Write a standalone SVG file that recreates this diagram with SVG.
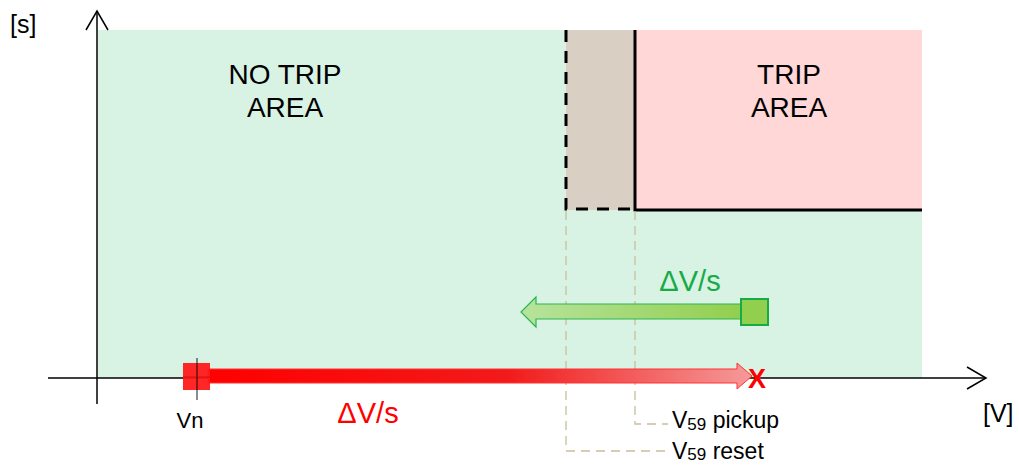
<svg xmlns="http://www.w3.org/2000/svg" width="1019" height="465" viewBox="0 0 1019 465">
<style>
text{font-family:"Liberation Sans",Arial,sans-serif;}
.lbl{font-size:28px;fill:#000;}
.unit{font-size:25px;fill:#000;}
.vlab{font-size:23px;fill:#000;}
.sub{font-size:17px;}
.guide{stroke:#c8bf9c;stroke-width:1.3;stroke-dasharray:9,6;fill:none;}
.axis{stroke:#000;stroke-width:1.5;fill:none;}
</style>
<defs>
<linearGradient id="gGreen" x1="0" y1="0" x2="1" y2="0">
<stop offset="0" stop-color="#b7e39d"/>
<stop offset="1" stop-color="#92cf4f"/>
</linearGradient>
<linearGradient id="gRed" x1="0" y1="0" x2="1" y2="0">
<stop offset="0" stop-color="#ff0000"/>
<stop offset="0.55" stop-color="#f21a1a"/>
<stop offset="1" stop-color="#f59a9a"/>
</linearGradient>
</defs>
<g id="areas">
<rect x="98" y="30" width="824" height="348" fill="#d8f2e4"/>
<rect x="566" y="30" width="69" height="180" fill="#d9cfc2"/>
<rect x="635" y="30" width="287" height="180" fill="#ffd7d7"/>
</g>
<g id="boundary">
<path d="M566,30 V209 H635" fill="none" stroke="#000" stroke-width="3" stroke-dasharray="12,9"/>
<path d="M635,30 V210 H922" fill="none" stroke="#000" stroke-width="3"/>
</g>
<g id="connectors">
<path class="guide" d="M566,211 V451 H668"/>
<path class="guide" d="M635,211 V424 H668"/>
</g>
<g id="axes">
<path class="axis" d="M97,404 V11"/>
<path class="axis" d="M86,30 L97,11 L108,30"/>
<path class="axis" d="M48,378 H986"/>
<path class="axis" d="M967,367 L986,378 L967,389"/>
</g>
<g id="green-arrow">
<path d="M741,304 H536 V297 L521,312 L536,327 V319 H741 Z" fill="url(#gGreen)" stroke="#2cb54e" stroke-width="1.2"/>
<rect x="741" y="299" width="27" height="26" fill="#92cf4f" stroke="#16ab45" stroke-width="2"/>
<text x="690" y="291" font-size="29" fill="#16ab45" text-anchor="middle">ΔV/s</text>
</g>
<g id="red-arrow">
<path d="M208,369 H737 V363 L752,376 L737,389 V383 H208 Z" fill="url(#gRed)" stroke="#ff3333" stroke-width="1"/>
<rect x="183" y="363" width="27" height="27" fill="#ff1a1a" fill-opacity="0.95"/>
<path d="M197,358 V400" stroke="#000" stroke-width="1.5" opacity="0.6"/>
<path d="M183,377 H210" stroke="#b00000" stroke-width="1" opacity="0.5"/>
<text x="757" y="388" font-size="27" font-weight="bold" fill="#ff0000" text-anchor="middle">X</text>
<text x="368" y="423" font-size="29" fill="#ff0000" text-anchor="middle">ΔV/s</text>
</g>
<g id="labels">
<text class="unit" x="10" y="33">[s]</text>
<text class="unit" x="983" y="422">[V]</text>
<text x="190" y="428" font-size="22" fill="#000" text-anchor="middle">Vn</text>
<text x="285" y="84" class="lbl" text-anchor="middle">NO TRIP</text>
<text x="285" y="117" class="lbl" text-anchor="middle">AREA</text>
<text x="789" y="84" class="lbl" text-anchor="middle">TRIP</text>
<text x="789" y="117" class="lbl" text-anchor="middle">AREA</text>
<text class="vlab" x="672" y="428">V<tspan class="sub" dy="2">59</tspan><tspan dy="-2"> pickup</tspan></text>
<text class="vlab" x="672" y="459">V<tspan class="sub" dy="1">59</tspan><tspan dy="-1"> reset</tspan></text>
</g>
</svg>
